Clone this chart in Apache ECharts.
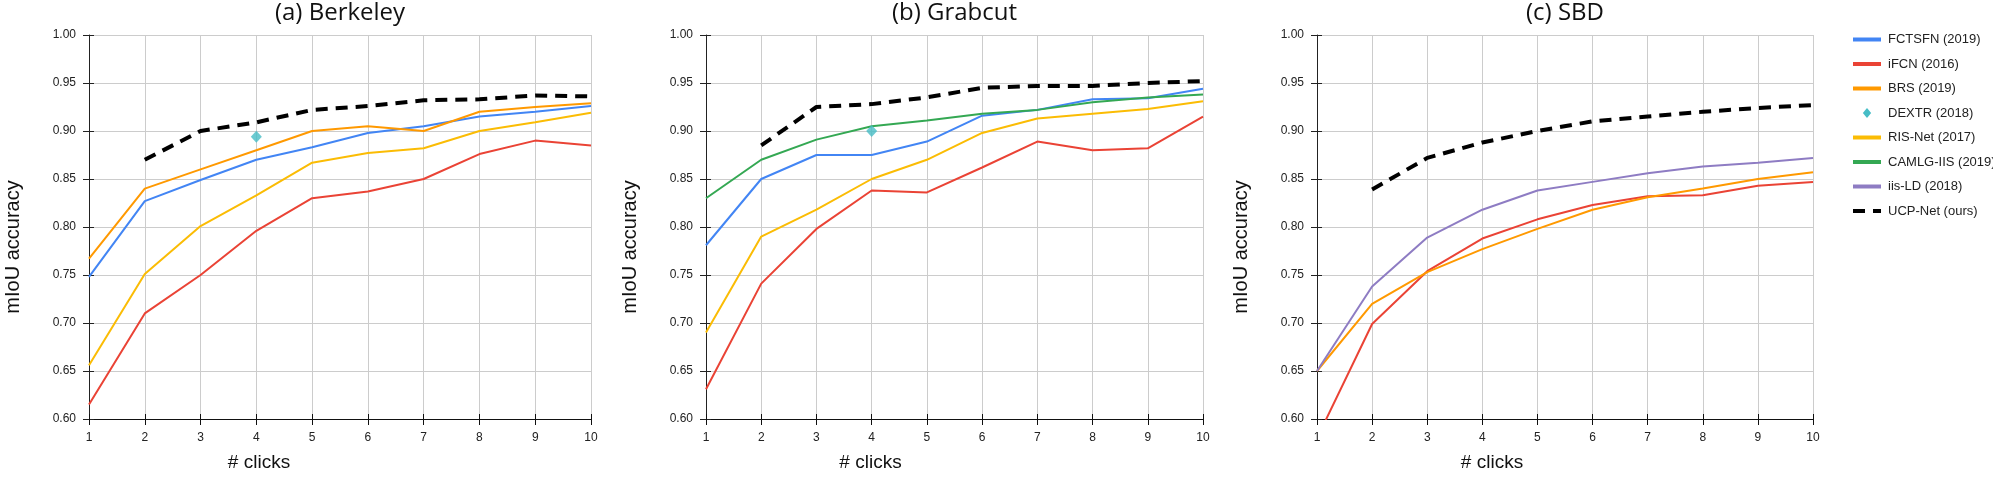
<!DOCTYPE html>
<html>
<head>
<meta charset="utf-8">
<script src="https://cdn.jsdelivr.net/npm/echarts@6/dist/echarts.min.js"></script>
<style>
html,body{margin:0;padding:0;background:#fff;}
#chart{width:1993px;height:477px;}
</style>
</head>
<body>
<div id="chart"></div>
<script>
// ---- data ----
const clicks = [1, 2, 3, 4, 5, 6, 7, 8, 9, 10];
const yTicks = [0.60, 0.65, 0.70, 0.75, 0.80, 0.85, 0.90, 0.95, 1.00];
const panelTitles = ['(a) Berkeley', '(b) Grabcut', '(c) SBD'];
const seriesNames = ['FCTSFN (2019)', 'iFCN (2016)', 'BRS (2019)', 'DEXTR (2018)', 'RIS-Net (2017)', 'CAMLG-IIS (2019)', 'iis-LD (2018)', 'UCP-Net (ours)'];

// (a) Berkeley
const berkeleyFCTSFN = [0.748, 0.827, 0.849, 0.870, 0.883, 0.898, 0.905, 0.915, 0.920, 0.926];
const berkeleyIFCN   = [0.615, 0.710, 0.750, 0.796, 0.830, 0.837, 0.850, 0.876, 0.890, 0.885];
const berkeleyBRS    = [0.767, 0.840, 0.860, 0.880, 0.900, 0.905, 0.900, 0.920, 0.925, 0.929];
const berkeleyDEXTR  = [null, null, null, 0.894, null, null, null, null, null, null];
const berkeleyRISNet = [0.656, 0.751, 0.801, 0.833, 0.867, 0.877, 0.882, 0.900, 0.909, 0.919];
const berkeleyUCP    = [null, 0.870, 0.900, 0.909, 0.922, 0.926, 0.932, 0.933, 0.937, 0.936];

// (b) Grabcut
const grabcutFCTSFN = [0.781, 0.850, 0.875, 0.875, 0.889, 0.916, 0.922, 0.933, 0.934, 0.944];
const grabcutIFCN   = [0.631, 0.741, 0.798, 0.838, 0.836, 0.862, 0.889, 0.880, 0.882, 0.915];
const grabcutDEXTR  = [null, null, null, 0.900, null, null, null, null, null, null];
const grabcutRISNet = [0.690, 0.790, 0.818, 0.850, 0.870, 0.898, 0.913, 0.918, 0.923, 0.931];
const grabcutCAMLG  = [0.830, 0.870, 0.891, 0.905, 0.911, 0.918, 0.922, 0.930, 0.935, 0.938];
const grabcutUCP    = [null, 0.885, 0.925, 0.928, 0.935, 0.945, 0.947, 0.947, 0.950, 0.952];

// (c) SBD
const sbdIFCN  = [0.580, 0.699, 0.754, 0.788, 0.808, 0.823, 0.832, 0.833, 0.843, 0.847];
const sbdBRS   = [0.650, 0.720, 0.753, 0.777, 0.798, 0.818, 0.831, 0.840, 0.850, 0.857];
const sbdIISLD = [0.650, 0.738, 0.789, 0.818, 0.838, 0.847, 0.856, 0.863, 0.867, 0.872];
const sbdUCP   = [null, 0.839, 0.872, 0.888, 0.900, 0.910, 0.915, 0.920, 0.924, 0.927];

// ---- styles ----
const colors = {
  'FCTSFN (2019)': '#4285F4',
  'iFCN (2016)': '#EA4335',
  'BRS (2019)': '#FF9900',
  'DEXTR (2018)': '#46BDC6',
  'RIS-Net (2017)': '#FBBC04',
  'CAMLG-IIS (2019)': '#34A853',
  'iis-LD (2018)': '#8E7CC3',
  'UCP-Net (ours)': '#000000'
};

const grids = [
  {left: 89, top: 35, width: 502, height: 393},
  {left: 706, top: 35, width: 497, height: 393},
  {left: 1317, top: 35, width: 496, height: 393}
];
const nameShift = [162, 168, 146];

function pairs(vals) {
  const out = [];
  vals.forEach((v, i) => { if (v !== null) out.push([clicks[i], v]); });
  return out;
}

const panels = [
  [['FCTSFN (2019)', berkeleyFCTSFN], ['iFCN (2016)', berkeleyIFCN], ['BRS (2019)', berkeleyBRS], ['RIS-Net (2017)', berkeleyRISNet], ['DEXTR (2018)', berkeleyDEXTR], ['UCP-Net (ours)', berkeleyUCP]],
  [['FCTSFN (2019)', grabcutFCTSFN], ['iFCN (2016)', grabcutIFCN], ['RIS-Net (2017)', grabcutRISNet], ['CAMLG-IIS (2019)', grabcutCAMLG], ['DEXTR (2018)', grabcutDEXTR], ['UCP-Net (ours)', grabcutUCP]],
  [['iFCN (2016)', sbdIFCN], ['BRS (2019)', sbdBRS], ['iis-LD (2018)', sbdIISLD], ['UCP-Net (ours)', sbdUCP]]
];

const xAxes = [], yAxes = [], series = [], titles = [];
grids.forEach((g, gi) => {
  titles.push({
    text: panelTitles[gi],
    left: g.left + g.width / 2,
    top: 0,
    padding: [1, 0, 0, 0],
    textAlign: 'center',
    textStyle: {fontFamily: 'Open Sans', fontWeight: 'normal', fontSize: 24, color: '#111'}
  });
  xAxes.push({
    type: 'value', gridIndex: gi, min: clicks[0], max: clicks[clicks.length - 1], interval: 1,
    name: '# clicks', nameLocation: 'middle', nameGap: 34,
    nameTextStyle: {fontFamily: 'Liberation Sans', fontSize: 19, color: '#111', padding: [0, nameShift[gi], 0, 0]},
    axisLine: {show: true, lineStyle: {color: '#111', width: 1}},
    axisTick: {show: true, length: 6, lineStyle: {color: '#111'}},
    axisLabel: {fontFamily: 'Liberation Sans', fontSize: 12, color: '#222', margin: 13},
    splitLine: {show: true, lineStyle: {color: '#cccccc', width: 1}}
  });
  yAxes.push({
    type: 'value', gridIndex: gi, min: yTicks[0], max: yTicks[yTicks.length - 1], interval: 0.05,
    name: 'mIoU accuracy', nameLocation: 'middle', nameGap: 66,
    nameTextStyle: {fontFamily: 'Liberation Sans', fontSize: 20, color: '#111', padding: [0, 40, 0, 0]},
    axisLine: {show: true, lineStyle: {color: '#222', width: 1}},
    axisTick: {show: true, length: 6, lineStyle: {color: '#222'}},
    axisLabel: {fontFamily: 'Liberation Sans', fontSize: 12, color: '#222', margin: 13,
      formatter: v => v.toFixed(2)},
    splitLine: {show: true, lineStyle: {color: '#cccccc', width: 1}}
  });
});
// inside tick halves
grids.forEach((g, gi) => {
  xAxes.push({
    type: 'value', gridIndex: gi, position: 'bottom', min: clicks[0], max: clicks[clicks.length - 1], interval: 1,
    axisLine: {show: false}, axisLabel: {show: false}, splitLine: {show: false},
    axisTick: {show: true, inside: true, length: 5, lineStyle: {color: '#111'}}
  });
  yAxes.push({
    type: 'value', gridIndex: gi, position: 'left', min: yTicks[0], max: yTicks[yTicks.length - 1], interval: 0.05,
    axisLine: {show: false}, axisLabel: {show: false}, splitLine: {show: false},
    axisTick: {show: true, inside: true, length: 5, lineStyle: {color: '#222'}}
  });
});

panels.forEach((list, gi) => {
  list.forEach(([name, vals]) => {
    const c = colors[name];
    if (name === 'DEXTR (2018)') {
      series.push({
        type: 'scatter', name, xAxisIndex: gi, yAxisIndex: gi, data: pairs(vals),
        symbol: 'diamond', symbolSize: [11, 12], itemStyle: {color: c}, z: 5
      });
    } else {
      const isUCP = name === 'UCP-Net (ours)';
      series.push({
        type: 'line', name, xAxisIndex: gi, yAxisIndex: gi, data: pairs(vals),
        symbol: 'none', showSymbol: false, clip: true, animation: false,
        itemStyle: {color: c},
        lineStyle: isUCP ? {color: c, width: 4, type: [12, 8]} : {color: c, width: 2},
        z: isUCP ? 4 : 3
      });
    }
  });
});

const chart = echarts.init(document.getElementById('chart'));
chart.setOption({
  animation: false,
  backgroundColor: '#ffffff',
  title: titles,
  grid: grids,
  xAxis: xAxes,
  yAxis: yAxes,
  legend: {
    orient: 'vertical', left: 1846, top: 28,
    itemWidth: 28, itemHeight: 10, itemGap: 11.5,
    symbolKeepAspect: true,
    data: seriesNames.map(n => n === 'DEXTR (2018)'
      ? {name: n, icon: 'path://M5,0 L10,6 L5,12 L0,6 Z', itemStyle: {opacity: 1}}
      : {name: n, itemStyle: {opacity: 0}}),
    lineStyle: {width: 4},
    textStyle: {fontFamily: 'Liberation Sans', fontSize: 13, color: '#222', padding: [0, 0, 0, 2]}
  },
  series
});
</script>
</body>
</html>
